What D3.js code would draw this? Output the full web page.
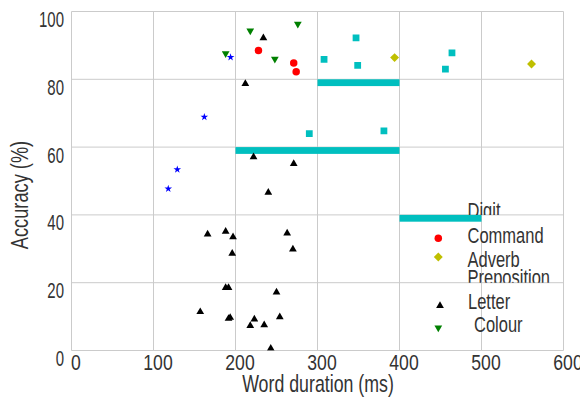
<!DOCTYPE html>
<html>
<head>
<meta charset="utf-8">
<script src="https://cdn.jsdelivr.net/npm/d3@7"></script>
<style>
    body { margin: 0; background: #fff; }
    svg { display: block; }
</style>
</head>
<body>
<div id="chart"></div>
<script>
(function () {

    // ticks
    var X_TICKS = [0, 100, 200, 300, 400, 500, 600];
    var Y_TICKS = [0, 20, 40, 60, 80, 100];

    // series: [word duration (ms), accuracy (%)]
    var digitPts   = [[347, 92.2], [308, 85.9], [349, 84.1], [464, 87.8], [456, 83.0], [290, 64.0], [381, 64.8]];
    var commandPts = [[228, 88.5], [271, 84.8], [274, 82.2]];
    var adverbPts  = [[394, 86.4], [561, 84.5]];
    var prepPts    = [[194, 86.5], [162, 68.9], [129, 53.4], [118, 47.7]];
    var letterPts  = [[234, 92.2], [212, 78.7], [222, 57.1], [271, 55.1], [240, 46.6],
                      [166, 34.3], [188, 35.1], [197, 33.5], [196, 28.6], [263, 34.6], [270, 29.9],
                      [188, 18.5], [191.5, 18.5], [157, 11.4], [191.5, 9.4], [193.5, 9.7],
                      [250, 17.2], [254, 9.9], [223, 9.2], [218, 7.3], [235, 7.5], [243, 0.6]];
    var colourPts  = [[188, 87.6], [218, 94.3], [248, 86.0], [276, 96.3]];

    // the flat cyan segments: [from ms, to ms, accuracy]
    var digitBars  = [[300, 400, 79], [200, 400, 59], [400, 500, 39]];

    var LEGEND_LABELS = ["Digit", "Command", "Adverb", "Preposition", "Letter", "Colour"];

    var W = 580, H = 401;
    var margin = { top: 11.5, left: 71.5 };
    var iW = 492, iH = 339;
    var FONT = "'Liberation Sans', Arial, sans-serif";
    var TXT = "#333";

    var svg = d3.select("#chart").append("svg")
        .attr("width", W).attr("height", H);

    var g = svg.append("g")
        .attr("transform", "translate(" + margin.left + "," + margin.top + ")");

    var x = d3.scaleLinear().domain([0, 600]).range([0, iW]);
    var y = d3.scaleLinear().domain([0, 100]).range([iH, 0]);

    g.append("defs").append("clipPath").attr("id", "clip-plot")
        .append("rect").attr("width", iW).attr("height", iH);

    /* legend text goes under the grid */
    var legRows = [
        { base: 218.3, left: 467.5, clipTo: 40 },
        { base: 242.7, left: 467.5 },
        { base: 267,   left: 467.5 },
        { base: 285,   left: 467.5, clipTo: 20 },
        { base: 309.3, left: 468 },
        { base: 331.7, left: 474 }
    ];
    var leg = svg.append("g");
    LEGEND_LABELS.forEach(function (lab, i) {
        var r = legRows[i];
        var t = leg.append("text")
            .attr("transform", "translate(" + r.left + "," + r.base + ") scale(0.75,1)")
            .style("font-family", FONT).style("font-size", "22px").style("fill", TXT)
            .text(lab);
        if (r.clipTo !== undefined) {
            var id = "clip-leg-" + i;
            svg.append("defs").append("clipPath").attr("id", id)
                .attr("clipPathUnits", "userSpaceOnUse")
                .append("rect").attr("x", 0).attr("y", -40)
                .attr("width", 200).attr("height", 40 - (r.base - margin.top - y(r.clipTo)));
            t.attr("clip-path", "url(#" + id + ")");
        }
    });

    /* grid */
    var grid = g.append("g").attr("class", "grid");
    grid.selectAll(".gx").data(X_TICKS).enter().append("line")
        .attr("x1", x).attr("x2", x).attr("y1", 0).attr("y2", iH);
    grid.selectAll(".gy").data(Y_TICKS).enter().append("line")
        .attr("x1", 0).attr("x2", iW).attr("y1", y).attr("y2", y);
    grid.selectAll("line").attr("stroke", "#cbcbcb").attr("stroke-width", 1);

    /* cyan segments */
    g.selectAll(".bar").data(digitBars).enter().append("rect")
        .attr("x", function (d) { return x(d[0]); })
        .attr("width", function (d) { return x(d[1]) - x(d[0]); })
        .attr("y", function (d) { return y(d[2]) - 3.4; })
        .attr("height", 6.8)
        .attr("fill", "#00bfbf");

    /* markers */
    var series = [
        { pts: digitPts,   type: d3.symbolSquare,   size: 46, rot: 0,   color: "#00bfbf" },
        { pts: commandPts, type: d3.symbolCircle,   size: 44, rot: 0,   color: "#ff0000" },
        { pts: adverbPts,  type: d3.symbolSquare,   size: 40, rot: 45,  color: "#bfbf00" },
        { pts: prepPts,    type: d3.symbolStar,     size: 18, rot: 0,   color: "#0000ff" },
        { pts: letterPts,  type: d3.symbolTriangle, size: 26, rot: 0,   color: "#000000" },
        { pts: colourPts,  type: d3.symbolTriangle, size: 26, rot: 180, color: "#008000" }
    ];

    var marks = g.append("g").attr("clip-path", "url(#clip-plot)");
    series.forEach(function (s) {
        marks.selectAll(null).data(s.pts).enter().append("path")
            .attr("d", d3.symbol().type(s.type).size(s.size))
            .attr("transform", function (d) {
                return "translate(" + x(d[0]) + "," + y(d[1]) + ") rotate(" + s.rot + ")";
            })
            .attr("fill", s.color);
    });

    // legend markers (only some entries have one)
    var legMarks = [
        { s: 1, px: 438.3, py: 238.3 },
        { s: 2, px: 438.3, py: 257 },
        { s: 4, px: 440,   py: 305.7 },
        { s: 5, px: 438.3, py: 327.7 }
    ];
    legMarks.forEach(function (m) {
        var s = series[m.s];
        svg.append("path")
            .attr("d", d3.symbol().type(s.type).size(s.size)())
            .attr("transform", "translate(" + m.px + "," + m.py + ") rotate(" + s.rot + ")")
            .attr("fill", s.color);
    });

    /* axes (labels only) */
    var ax = g.append("g").attr("class", "axis axis-y")
        .call(d3.axisLeft(y).tickValues(Y_TICKS).tickSize(0).tickFormat(d3.format("d")));
    ax.select(".domain").remove();
    ax.selectAll("text")
        .attr("x", null).attr("dy", null)
        .attr("text-anchor", "end")
        .attr("transform", "translate(-7.5,15) scale(0.68,1)");

    var bx = g.append("g").attr("class", "axis axis-x")
        .attr("transform", "translate(0," + iH + ")")
        .call(d3.axisBottom(x).tickValues(X_TICKS).tickSize(0).tickFormat(d3.format("d")));
    bx.select(".domain").remove();
    bx.selectAll("text")
        .attr("y", null).attr("dy", null)
        .attr("transform", "translate(4,19) scale(0.8,1)");

    g.selectAll(".axis text")
        .style("font-family", FONT)
        .style("font-size", "22px")
        .style("fill", TXT);

    // axis titles
    svg.append("text")
        .attr("transform", "translate(318,392) scale(0.74,1)")
        .attr("text-anchor", "middle")
        .style("font-family", FONT).style("font-size", "24px").style("fill", TXT)
        .text("Word duration (ms)");

    svg.append("text")
        .attr("transform", "translate(28,195) rotate(-90) scale(0.76,1)")
        .attr("text-anchor", "middle")
        .style("font-family", FONT).style("font-size", "24px").style("fill", TXT)
        .text("Accuracy (%)");

}());
</script>
</body>
</html>
